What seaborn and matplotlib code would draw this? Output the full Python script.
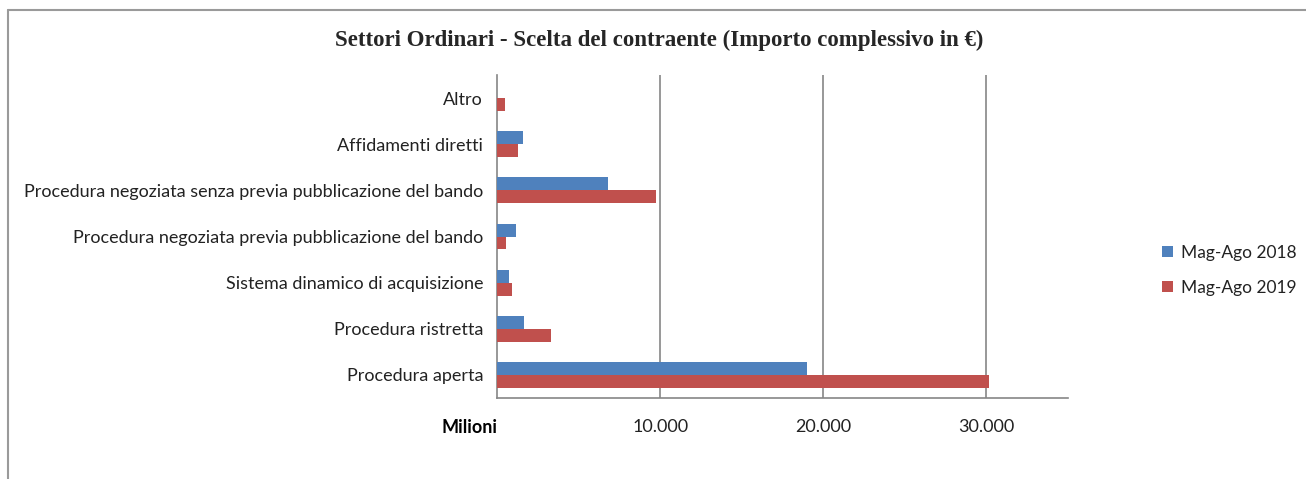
import matplotlib
matplotlib.use("Agg")
import matplotlib.pyplot as plt
from matplotlib.lines import Line2D
from matplotlib.ticker import FixedLocator
import pandas as pd
import seaborn as sns

categories = [
    "Altro",
    "Affidamenti diretti",
    "Procedura negoziata senza previa pubblicazione del bando",
    "Procedura negoziata previa pubblicazione del bando",
    "Sistema dinamico di acquisizione",
    "Procedura ristretta",
    "Procedura aperta",
]
series_names = ["Mag-Ago 2018", "Mag-Ago 2019"]
values_2018 = [0, 1600, 6780, 1150, 730, 1670, 18970]
values_2019 = [470, 1270, 9740, 560, 920, 3310, 30140]
x_ticks = [0, 10000, 20000, 30000]
x_tick_labels = ["Milioni", "10.000", "20.000", "30.000"]

df = pd.DataFrame({
    "categoria": categories * 2,
    "periodo": [series_names[0]] * len(categories) + [series_names[1]] * len(categories),
    "importo": values_2018 + values_2019,
})

sns.set_style("white")
plt.rcParams["font.family"] = ["Lato", "DejaVu Sans"]

fig = plt.figure(figsize=(13.06, 4.79), dpi=100)
ax = fig.add_axes([0.3806, 0.1691, 0.8178 - 0.3806, 0.8434 - 0.1691])

sns.barplot(data=df, y="categoria", x="importo", hue="periodo", orient="h",
            order=categories, hue_order=series_names,
            palette=["#4F81BD", "#C0504D"], width=0.56, gap=0,
            saturation=1, linewidth=0, ax=ax, zorder=3)

ax.set_xlim(0, 35000)
ax.set_ylim(len(categories) - 0.5, -0.5)

# vertical gridlines
for v in x_ticks[1:]:
    ax.axvline(v, color="#868686", lw=1.2, zorder=1)

ax.set_xticks(x_ticks)
ax.set_xticklabels(x_tick_labels, fontsize=13, color="#222222")
first = ax.get_xticklabels()[0]
first.set_fontweight("bold")
first.set_color("black")
first.set_horizontalalignment("right")
ax.tick_params(axis="x", which="major", length=5, width=1, color="#868686",
               direction="out", pad=10)

ax.yaxis.set_minor_locator(FixedLocator([i - 0.5 for i in range(len(categories) + 1)]))
ax.tick_params(axis="y", which="major", length=0, pad=10, labelsize=13, labelcolor="#222222")
ax.tick_params(axis="y", which="minor", length=5, width=1, color="#868686", direction="out")

ax.set_xlabel("")
ax.set_ylabel("")
sns.despine(ax=ax, top=True, right=True)
for s in ["left", "bottom"]:
    ax.spines[s].set_color("#868686")
    ax.spines[s].set_linewidth(1.2)

handles, labels = ax.get_legend_handles_labels()
ax.legend(handles, labels, loc="center left", bbox_to_anchor=(0.878, 0.436),
          bbox_transform=fig.transFigure, frameon=False, fontsize=12.5,
          handlelength=0.6, handleheight=0.6, handletextpad=0.45,
          labelspacing=1.1, labelcolor="#222222")

fig.text(0.505, 0.915, "Settori Ordinari - Scelta del contraente (Importo complessivo in \u20ac)",
         ha="center", va="center", fontsize=16.5, fontweight="bold",
         family=["Liberation Serif", "DejaVu Serif"])

# outer chart frame (top and left edges visible)
fig.add_artist(Line2D([8 / 1306, 1.0], [1 - 10 / 479, 1 - 10 / 479],
                      transform=fig.transFigure, color="#9a9a9a", lw=1.5))
fig.add_artist(Line2D([8 / 1306, 8 / 1306], [0.0, 1 - 10 / 479],
                      transform=fig.transFigure, color="#9a9a9a", lw=1.5))

fig.savefig("out.png", dpi=100)
